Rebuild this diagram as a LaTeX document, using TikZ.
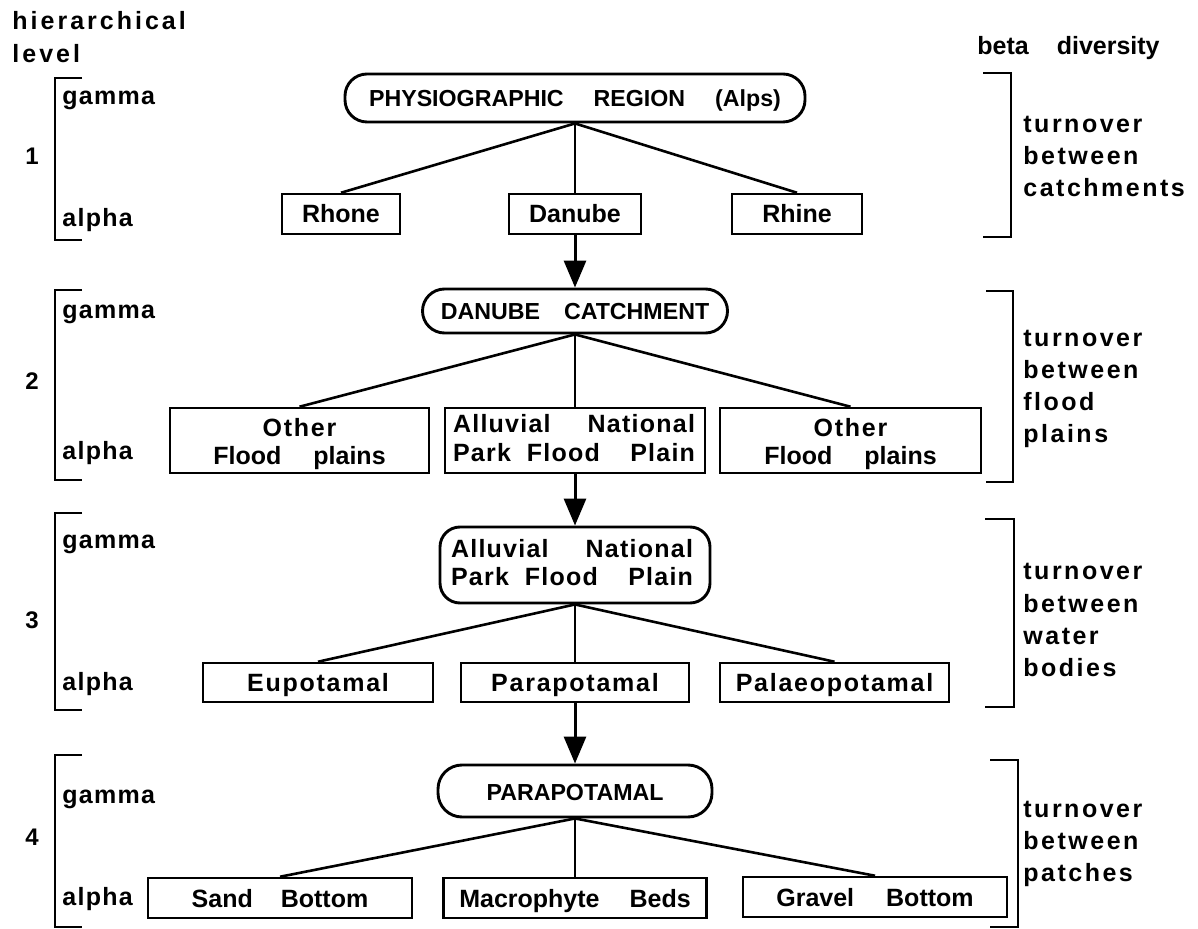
\documentclass[tikz,border=0pt]{standalone}
\usepackage{fontspec}
\setmainfont{Liberation Sans}
\newfontfamily\fsLeft{Liberation Sans}[LetterSpace=5]
\newfontfamily\fsRight{Liberation Sans}[LetterSpace=10]
\newfontfamily\fsHead{Liberation Sans}[LetterSpace=12]
\newfontfamily\fsSp{Liberation Sans}[LetterSpace=7]
\usetikzlibrary{arrows.meta}
\newcommand\wgap{\hspace{14pt}}
\newcommand\jline[3]{\hbox to #1{#2\hfill #3}}
\begin{document}
\begin{tikzpicture}[x=0.5pt,y=-0.5pt,
  box/.style={draw, line width=1.25pt, inner sep=0pt, text height=9pt, text depth=0pt,
    font=\fontsize{12.5}{15}\selectfont\bfseries},
  rbox/.style={box, line width=1.45pt, rounded corners=11pt,
    font=\fontsize{11.6}{14}\selectfont\bfseries},
  txt/.style={anchor=base, inner sep=0pt, font=\fontsize{12.5}{15}\selectfont\bfseries},
  llab/.style={anchor=base west, inner sep=0pt, font=\fsLeft\fontsize{12.5}{15}\selectfont\bfseries},
  num/.style={anchor=base, inner sep=0pt, font=\fontsize{12}{14}\selectfont\bfseries},
  rlab/.style={anchor=base west, inner sep=0pt, font=\fsRight\fontsize{12.5}{15}\selectfont\bfseries},
  hlab/.style={anchor=base west, inner sep=0pt, font=\fsHead\fontsize{12.5}{15}\selectfont\bfseries},
  conn/.style={line width=1.3pt},
  arr/.style={line width=1.5pt, -{Triangle[width=11pt,length=13.5pt]}},
  brk/.style={line width=1.1pt},
]
\useasboundingbox (0,0) rectangle (1198,929);

% headers
\node[hlab] (hh1) at (12,30) {hierarchical};
\node[hlab] (hh2) at (12,63) {level};
\node[anchor=base west, inner sep=0pt, font=\fontsize{12.5}{15}\selectfont\bfseries] (beta) at (977,55) {beta\hspace{14pt}diversity};

% ---------------- level 1
\node[rbox, minimum width=230pt, minimum height=24pt] (phys) at (575,98)
  {PHYSIOGRAPHIC\hspace{15pt}REGION\hspace{15pt}(Alps)};
\node[box, minimum width=59pt, minimum height=20pt] (rhone) at (341,214) {Rhone};
\node[box, minimum width=66pt, minimum height=20pt] (danube) at (575,214) {Danube};
\node[box, minimum width=65pt, minimum height=20pt] (rhine) at (797,214) {Rhine};
\draw[conn] (phys.south) -- (rhone.north);
\draw[conn] (phys.south) -- (danube.north);
\draw[conn] (phys.south) -- (rhine.north);

% ---------------- level 2
\node[rbox, minimum width=152.5pt, minimum height=22pt] (catch) at (575,311)
  {DANUBE\hspace{12pt}CATCHMENT};
\draw[arr] (danube.south) -- (catch.north);
\node[box, minimum width=129.5pt, minimum height=32.5pt] (otherL) at (299.5,440.5) {};
\node[txt] (otherLa) at (299.5,437) {\fsSp Other};
\node[txt] (otherLb) at (299.5,465) {Flood\hspace{16pt}plains};
\node[box, minimum width=130pt, minimum height=32.5pt] (alluv) at (575,440.5) {};
\node[txt] (alluva) at (574,433) {\fsLeft\jline{121pt}{Alluvial}{National}};
\node[txt] (alluvb) at (574,462) {\fsLeft\jline{121pt}{Park\hspace{8pt}Flood}{Plain}};
\node[box, minimum width=130.5pt, minimum height=32.5pt] (otherR) at (850.5,440.5) {};
\node[txt] (otherRa) at (850.5,437) {\fsSp Other};
\node[txt] (otherRb) at (850.5,465) {Flood\hspace{16pt}plains};
\draw[conn] (catch.south) -- (otherL.north);
\draw[conn] (catch.south) -- (alluv.north);
\draw[conn] (catch.south) -- (otherR.north);

% ---------------- level 3
\node[rbox, rounded corners=10pt, minimum width=135pt, minimum height=38pt] (alluv2) at (575,565) {};
\node[txt] (alluv2a) at (572,558) {\fsLeft\jline{121pt}{Alluvial}{National}};
\node[txt] (alluv2b) at (572,586) {\fsLeft\jline{121pt}{Park\hspace{8pt}Flood}{Plain}};
\draw[arr] (alluv.south) -- (alluv2.north);
\node[box, minimum width=115pt, minimum height=19.5pt] (eupo) at (318,682.5) {\fsSp Eupotamal};
\node[box, minimum width=114pt, minimum height=19.5pt] (parapo) at (575,682.5) {\fsSp Parapotamal};
\node[box, minimum width=114.5pt, minimum height=19.5pt] (palaeo) at (834.5,682.5) {\fsSp Palaeopotamal};
\draw[conn] (alluv2.south) -- (eupo.north);
\draw[conn] (alluv2.south) -- (parapo.north);
\draw[conn] (alluv2.south) -- (palaeo.north);

% ---------------- level 4
\node[rbox, rounded corners=12pt, minimum width=137pt, minimum height=26pt] (para4) at (575,791) {PARAPOTAMAL};
\draw[arr] (parapo.south) -- (para4.north);
\node[box, minimum width=132pt, minimum height=20pt] (sand) at (280,898) {Sand\hspace{14pt}Bottom};
\node[box, minimum width=131.5pt, minimum height=20pt] (macro) at (575,898) {Macrophyte\hspace{15pt}Beds};
\node[box, minimum width=132pt, minimum height=20pt] (gravel) at (875,897) {Gravel\hspace{16pt}Bottom};
\draw[conn] (para4.south) -- (sand.north);
\draw[conn] (para4.south) -- (macro.north);
\draw[conn] (para4.south) -- (gravel.north);

% ---------------- left brackets and labels
\draw[brk] (82,78) -- (55,78) -- (55,240) -- (82,240);
\draw[brk] (82,290) -- (55,290) -- (55,480) -- (82,480);
\draw[brk] (82,513) -- (55,513) -- (55,710) -- (82,710);
\draw[brk] (82,755) -- (55,755) -- (55,927) -- (82,927);

\node[llab] (g1) at (62,105) {gamma};
\node[num]  (n1) at (32,165) {1};
\node[llab] (a1) at (62,227) {alpha};
\node[llab] (g2) at (62,319) {gamma};
\node[num]  (n2) at (32,390) {2};
\node[llab] (a2) at (62,460) {alpha};
\node[llab] (g3) at (62,549) {gamma};
\node[num]  (n3) at (32,628) {3};
\node[llab] (a3) at (62,690) {alpha};
\node[llab] (g4) at (62,803) {gamma};
\node[num]  (n4) at (32,845) {4};
\node[llab] (a4) at (62,905) {alpha};

% ---------------- right brackets and labels
\draw[brk] (983,73) -- (1011,73) -- (1011,237) -- (983,237);
\draw[brk] (986,291) -- (1013,291) -- (1013,482) -- (986,482);
\draw[brk] (985,519) -- (1014,519) -- (1014,707) -- (985,707);
\draw[brk] (990,760) -- (1018,760) -- (1018,927) -- (990,927);

\node[rlab] (r1a) at (1023,133) {turnover};
\node[rlab] (r1b) at (1023,165) {between};
\node[rlab] (r1c) at (1023,197) {catchments};
\node[rlab] (r2a) at (1023,347) {turnover};
\node[rlab] (r2b) at (1023,379) {between};
\node[rlab] (r2c) at (1023,411) {flood};
\node[rlab] (r2d) at (1023,443) {plains};
\node[rlab] (r3a) at (1023,580) {turnover};
\node[rlab] (r3b) at (1023,612) {between};
\node[rlab] (r3c) at (1023,644) {water};
\node[rlab] (r3d) at (1023,676) {bodies};
\node[rlab] (r4a) at (1023,817) {turnover};
\node[rlab] (r4b) at (1023,849) {between};
\node[rlab] (r4c) at (1023,881) {patches};
\end{tikzpicture}
\end{document}
